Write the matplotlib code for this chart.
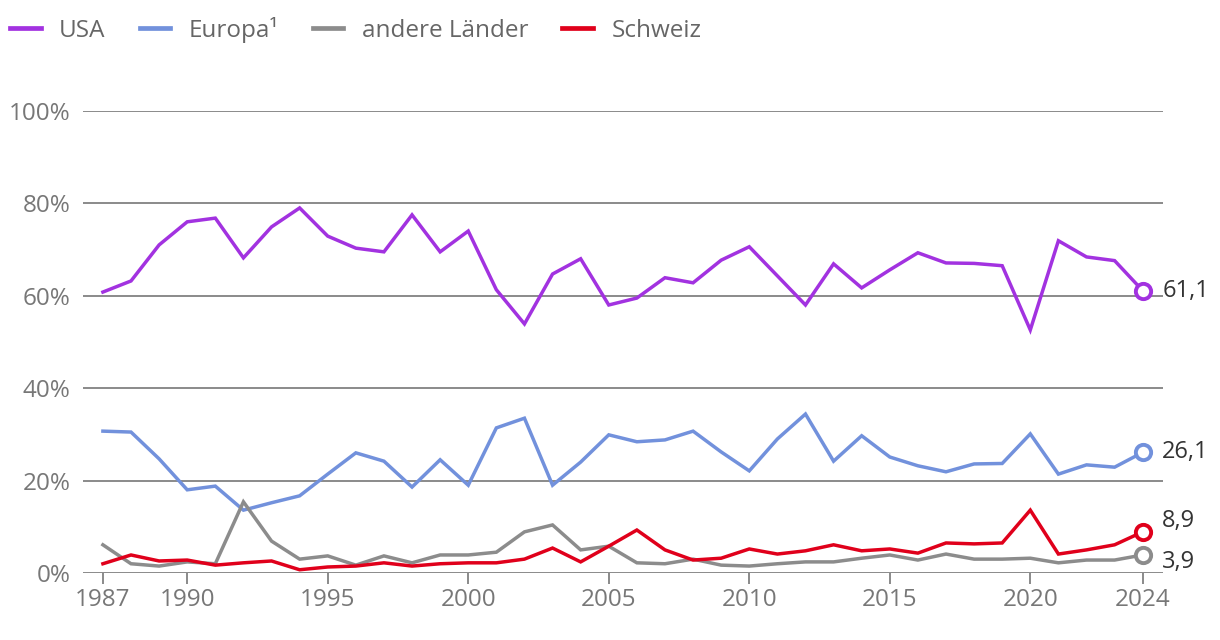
import matplotlib

matplotlib.use("Agg")
import matplotlib.pyplot as plt
import numpy as np

plt.rcParams["font.family"] = ["Open Sans", "DejaVu Sans"]

years = list(range(1987, 2025))

usa = [60.8, 63.2, 71.0, 76.0, 76.8, 68.2, 74.9, 79.0, 72.9, 70.3,
       69.5, 77.5, 69.5, 74.0, 61.3, 53.9, 64.7, 68.0, 58.0, 59.5,
       63.9, 62.8, 67.7, 70.6, 64.3, 58.0, 66.9, 61.7, 65.6, 69.3,
       67.1, 67.0, 66.5, 52.6, 71.9, 68.4, 67.6, 61.1]
europa = [30.7, 30.5, 24.7, 18.0, 18.8, 13.6, 15.2, 16.7, 21.4, 26.0,
          24.2, 18.6, 24.5, 19.0, 31.4, 33.5, 19.0, 24.0, 29.9, 28.4,
          28.8, 30.7, 26.2, 22.1, 29.0, 34.4, 24.2, 29.7, 25.1, 23.2,
          21.9, 23.6, 23.7, 30.1, 21.4, 23.4, 22.9, 26.1]
andere = [6.1, 2.0, 1.5, 2.4, 2.0, 15.4, 6.9, 3.0, 3.7, 1.7,
          3.7, 2.2, 3.9, 3.9, 4.5, 8.9, 10.4, 5.0, 5.8, 2.2,
          2.0, 3.0, 1.7, 1.5, 2.0, 2.4, 2.4, 3.2, 3.9, 2.8,
          4.1, 3.0, 3.0, 3.2, 2.2, 2.8, 2.8, 3.9]
schweiz = [2.0, 3.9, 2.6, 2.8, 1.7, 2.2, 2.6, 0.7, 1.3, 1.5,
           2.2, 1.5, 2.0, 2.2, 2.2, 3.0, 5.4, 2.4, 5.8, 9.3,
           5.0, 2.8, 3.2, 5.2, 4.1, 4.8, 6.1, 4.8, 5.2, 4.3,
           6.5, 6.3, 6.5, 13.6, 4.1, 5.0, 6.1, 8.9]

series = [
    ("USA", usa, "#a232e0"),
    ("Europa\u00b9", europa, "#7291dc"),
    ("andere Länder", andere, "#8c8c8c"),
    ("Schweiz", schweiz, "#e0001b"),
]
xticks = [1987, 1990, 1995, 2000, 2005, 2010, 2015, 2020, 2024]
yticks = [0, 20, 40, 60, 80, 100]

FS = 17.5

fig = plt.figure(figsize=(12.2, 6.4), dpi=100)
ax = fig.add_axes([0.068, 0.1047, 0.885, 0.722])

for yv in yticks:
    ax.axhline(yv, color="#8a8a8a", linewidth=1.4, zorder=1)

handles = []
for label, vals, color in series:
    (h,) = ax.plot(years, vals, color=color, linewidth=2.5, label=label,
                   clip_on=False, zorder=3, solid_joinstyle="miter")
    ax.plot(years[-1], vals[-1], marker="o", markersize=11, markerfacecolor="white",
            markeredgecolor=color, markeredgewidth=2.8, clip_on=False, zorder=4)
    handles.append(h)

# end labels (small vertical nudges where the lines sit close together)
end_offsets = [(usa, 0), (europa, 0), (schweiz, 8), (andere, -5)]
for vals, dy in end_offsets:
    ax.annotate(f"{vals[-1]:.1f}".replace(".", ","), (years[-1], vals[-1]), xytext=(14, dy),
                textcoords="offset points", va="center", ha="left", fontsize=FS - 0.5,
                color="#333333")

ax.set_xlim(1986.29, 2024.71)
ax.set_ylim(0, 100)
ax.set_xticks(xticks)
ax.set_xticklabels([str(x) for x in xticks])
ax.set_yticks(yticks)
ax.set_yticklabels([f"{y}%" for y in yticks])
for s in ax.spines.values():
    s.set_visible(False)
ax.tick_params(axis="x", length=8, width=1.4, color="#8a8a8a", labelcolor="#777777",
               labelsize=FS, pad=3)
ax.tick_params(axis="y", length=0, labelcolor="#777777", labelsize=FS, pad=9)

leg = fig.legend(handles=handles, loc="center left", bbox_to_anchor=(10 / 1220, 1 - 30 / 640),
                 ncol=4, frameon=False, fontsize=FS, labelcolor="#666666", handlelength=1.27,
                 handletextpad=0.75, columnspacing=1.4, borderpad=0, borderaxespad=0)
for line in leg.get_lines():
    line.set_linewidth(3.4)

fig.savefig("out.png", dpi=100)
